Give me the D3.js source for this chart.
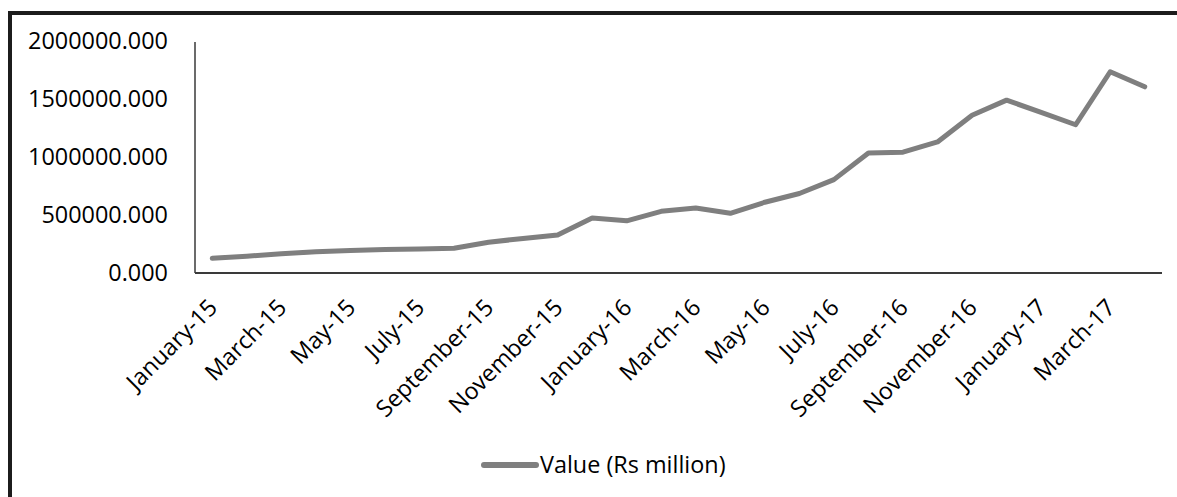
<!DOCTYPE html>
<html>
<head>
<meta charset="utf-8">
<script src="https://cdn.jsdelivr.net/npm/d3@7"></script>
<style>
  html, body { margin: 0; padding: 0; background: #fff; }
  svg { display: block; }
</style>
</head>
<body>
<svg id="chart" width="1177" height="497"></svg>
<script>
const months = [
  "January-15","February-15","March-15","April-15","May-15","June-15",
  "July-15","August-15","September-15","October-15","November-15","December-15",
  "January-16","February-16","March-16","April-16","May-16","June-16",
  "July-16","August-16","September-16","October-16","November-16","December-16",
  "January-17","February-17","March-17","April-17"
];
const values = [
  127000, 145000, 165000, 183000, 195000, 203000,
  207000, 213000, 265000, 298000, 328000, 475000,
  450000, 532000, 560000, 515000, 610000, 685000,
  805000, 1035000, 1042000, 1130000, 1360000, 1490000,
  1385000, 1278000, 1735000, 1605000
];
const yTicks = [0, 500000, 1000000, 1500000, 2000000];
const seriesName = "Value (Rs million)";

const FONT = "'Open Sans', 'Noto Sans', sans-serif";
const svg = d3.select("#chart");

// measure to match reference text width
const probe = svg.append("text").attr("font-family", FONT).attr("font-size", 100).text("2000000.000");
const w100 = probe.node().getComputedTextLength();
probe.remove();
const fs = Math.round(100 * 140 / w100 * 10) / 10;

// outer frame
svg.append("line").attr("x1", 10).attr("x2", 10).attr("y1", 11).attr("y2", 497)
  .attr("stroke", "#1c1c1c").attr("stroke-width", 4);
svg.append("line").attr("x1", 8).attr("x2", 1177).attr("y1", 13).attr("y2", 13)
  .attr("stroke", "#1c1c1c").attr("stroke-width", 4);

const x = d3.scalePoint().domain(months).range([195, 1162]).padding(0.5);
const y = d3.scaleLinear().domain([0, 2000000]).range([273, 41]);

// y axis
const yAxis = svg.append("g").attr("transform", "translate(195,0)")
  .call(d3.axisLeft(y).tickValues(yTicks).tickSize(0).tickPadding(27).tickFormat(d3.format(".3f")));
yAxis.select(".domain").attr("stroke", "#3a3a3a").attr("stroke-width", 1.5).attr("d", "M0,42V273");
yAxis.selectAll("text").attr("font-family", FONT).attr("font-size", fs).attr("fill", "#000");

// x axis
const xAxis = svg.append("g").attr("transform", "translate(0,273)")
  .call(d3.axisBottom(x).tickValues(months.filter((d, i) => i % 2 === 0)).tickSize(0));
xAxis.select(".domain").attr("stroke", "#3a3a3a").attr("stroke-width", 2).attr("d", "M195,0H1162");
xAxis.selectAll("text")
  .attr("font-family", FONT).attr("font-size", fs).attr("fill", "#000")
  .attr("text-anchor", "end").attr("x", 0).attr("y", 0).attr("dy", 0)
  .attr("transform", "translate(6,36) rotate(-45)");

// line
const line = d3.line().x((d, i) => x(months[i])).y(d => y(d));
svg.append("path").datum(values)
  .attr("d", line)
  .attr("fill", "none").attr("stroke", "#7f7f7f").attr("stroke-width", 5)
  .attr("stroke-linejoin", "round").attr("stroke-linecap", "round");

// legend
const lg = svg.append("g");
lg.append("line").attr("x1", 484).attr("x2", 536).attr("y1", 465).attr("y2", 465)
  .attr("stroke", "#7f7f7f").attr("stroke-width", 6).attr("stroke-linecap", "round");
lg.append("text").attr("x", 540).attr("y", 465).attr("dy", "0.35em")
  .attr("font-family", FONT).attr("font-size", fs).attr("fill", "#000")
  .text(seriesName);
</script>
</body>
</html>
